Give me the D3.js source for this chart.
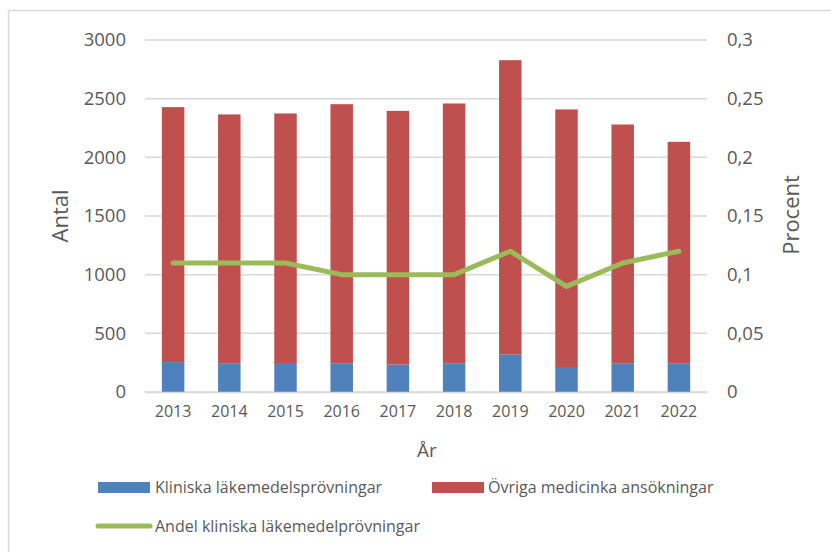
<!DOCTYPE html>
<html>
<head>
<meta charset="utf-8">
<script src="https://cdn.jsdelivr.net/npm/d3@7"></script>
<style>
  body { margin: 0; background: #fff; }
  text { font-family: "Open Sans", sans-serif; fill: #595959; }
</style>
</head>
<body>
<div class="d3-container"></div>
<script>
const years = ["2013", "2014", "2015", "2016", "2017", "2018", "2019", "2020", "2021", "2022"];
const kliniska = [255, 245, 247, 245, 233, 245, 321, 213, 245, 245];
const ovriga = [2173, 2121, 2127, 2208, 2163, 2214, 2507, 2195, 2035, 1887];
const andel = [0.11, 0.11, 0.11, 0.10, 0.10, 0.10, 0.12, 0.09, 0.11, 0.12];
const leftTicks = [0, 500, 1000, 1500, 2000, 2500, 3000];
const rightTicks = [0, 0.05, 0.1, 0.15, 0.2, 0.25, 0.3];

const width = 831;
const height = 552;
const margin = {top: 40, bottom: 160, left: 145, right: 124};

const svg = d3.select(".d3-container")
  .append("svg")
  .attr("width", width)
  .attr("height", height);

// chart border
svg.append("rect")
  .attr("x", 8.5).attr("y", 10.5)
  .attr("width", 840).attr("height", 560)
  .attr("fill", "none")
  .attr("stroke", "#d9d9d9")
  .attr("stroke-width", 1.5);

const x = d3.scaleBand()
  .domain(years)
  .range([margin.left, width - margin.right])
  .paddingInner(0.6)
  .paddingOuter(0.3);

const y = d3.scaleLinear()
  .domain([0, 3000])
  .range([height - margin.bottom, margin.top]);

const y2 = d3.scaleLinear()
  .domain([0, 0.3])
  .range([height - margin.bottom, margin.top]);

// gridlines
svg.append("g")
  .selectAll("line")
  .data(leftTicks)
  .join("line")
  .attr("x1", margin.left)
  .attr("x2", width - margin.right)
  .attr("y1", d => y(d))
  .attr("y2", d => y(d))
  .attr("stroke", "#d9d9d9")
  .attr("stroke-width", 1.5);

const stackData = years.map((yr, i) => ({year: yr, kliniska: kliniska[i], ovriga: ovriga[i]}));
const stack = d3.stack().keys(["kliniska", "ovriga"])(stackData);
const colors = {kliniska: "#4f81bd", ovriga: "#c0504d"};

svg.append("g")
  .selectAll("g")
  .data(stack)
  .join("g")
  .attr("fill", d => colors[d.key])
  .selectAll("rect")
  .data(d => d)
  .join("rect")
  .attr("x", d => x(d.data.year))
  .attr("y", d => y(d[1]))
  .attr("height", d => y(d[0]) - y(d[1]))
  .attr("width", x.bandwidth());

// green line
const line = d3.line()
  .x((d, i) => x(years[i]) + x.bandwidth() / 2)
  .y(d => y2(d));

svg.append("path")
  .datum(andel)
  .attr("d", line)
  .attr("fill", "none")
  .attr("stroke", "#9bbb59")
  .attr("stroke-width", 5)
  .attr("stroke-linejoin", "round")
  .attr("stroke-linecap", "round");

function xAxis(g) {
  g.attr("transform", `translate(0, ${height - margin.bottom})`)
    .call(d3.axisBottom(x).tickSize(0).tickPadding(14));
  g.select(".domain").attr("stroke", "#d9d9d9").attr("stroke-width", 1.5);
  g.selectAll("text").style("font-size", "16px").attr("fill", "#595959");
}

function yAxis(g) {
  g.attr("transform", `translate(${margin.left - 19}, 0)`)
    .call(d3.axisLeft(y).tickValues(leftTicks).tickSize(0).tickPadding(0)
      .tickFormat(d => String(d)));
  g.select(".domain").remove();
  g.selectAll("text").style("font-size", "18.5px").attr("fill", "#595959");
}

function yAxisRight(g) {
  g.attr("transform", `translate(${width - margin.right + 20}, 0)`)
    .call(d3.axisRight(y2).tickValues(rightTicks).tickSize(0).tickPadding(0)
      .tickFormat(d => String(+d.toFixed(2)).replace(".", ",")));
  g.select(".domain").remove();
  g.selectAll("text").style("font-size", "18.5px").attr("fill", "#595959");
}

svg.append("g").call(xAxis);
svg.append("g").call(yAxis);
svg.append("g").call(yAxisRight);

// axis titles
svg.append("text")
  .attr("transform", "translate(68, 216) rotate(-90)")
  .attr("text-anchor", "middle")
  .style("font-size", "22px")
  .text("Antal");

svg.append("text")
  .attr("transform", "translate(799, 215) rotate(-90)")
  .attr("text-anchor", "middle")
  .style("font-size", "22px")
  .text("Procent");

svg.append("text")
  .attr("x", 427).attr("y", 457)
  .attr("text-anchor", "middle")
  .style("font-size", "19px")
  .text("År");

// legend
const legend = svg.append("g");
legend.append("rect").attr("x", 98).attr("y", 482).attr("width", 52).attr("height", 11).attr("fill", colors.kliniska);
legend.append("text").attr("x", 155).attr("y", 493).style("font-size", "16px").text("Kliniska läkemedelsprövningar");
legend.append("rect").attr("x", 432).attr("y", 482).attr("width", 52).attr("height", 11).attr("fill", colors.ovriga);
legend.append("text").attr("x", 488).attr("y", 493).style("font-size", "16px").text("Övriga medicinka ansökningar");
legend.append("line").attr("x1", 98).attr("x2", 150).attr("y1", 526).attr("y2", 526)
  .attr("stroke", "#9bbb59").attr("stroke-width", 5).attr("stroke-linecap", "round");
legend.append("text").attr("x", 155).attr("y", 532).style("font-size", "16px").text("Andel kliniska läkemedelprövningar");
</script>
</body>
</html>
